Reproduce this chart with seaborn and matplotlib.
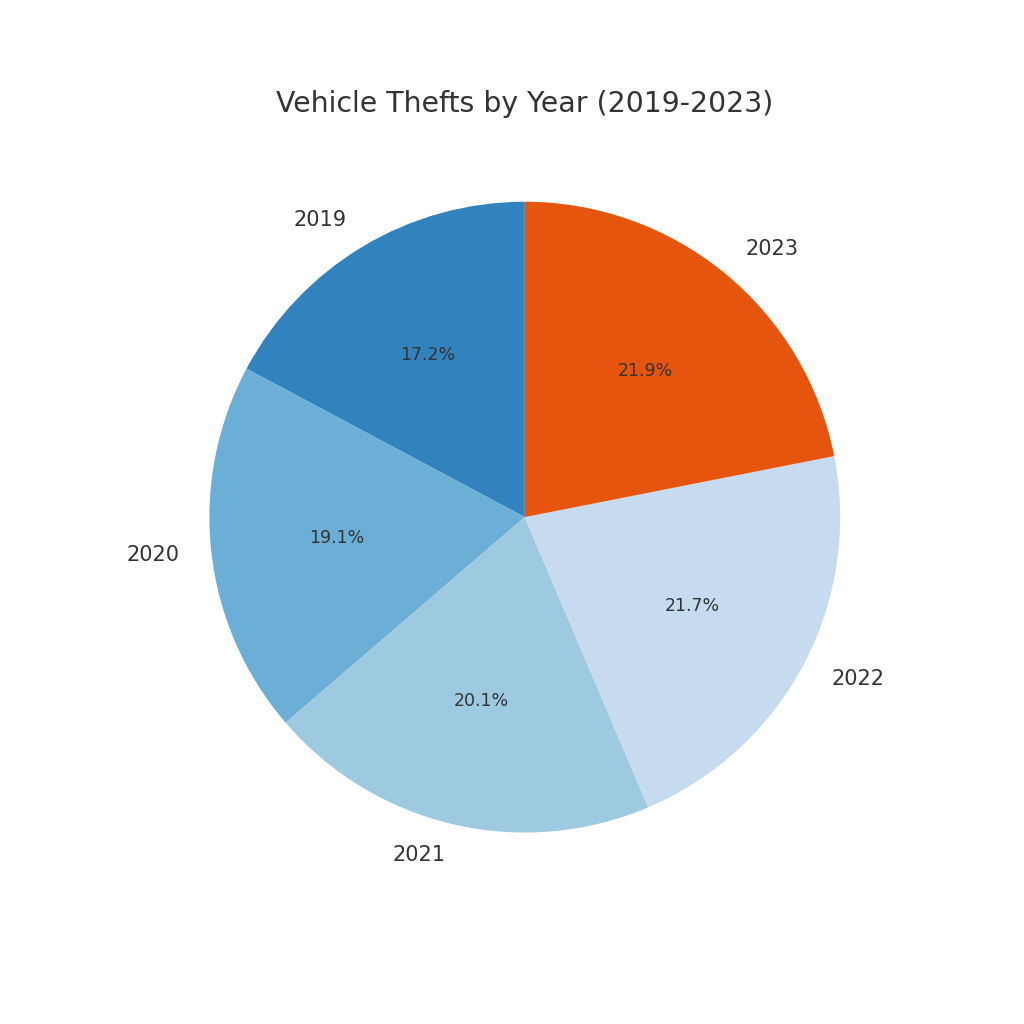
import matplotlib
matplotlib.use("Agg")
import matplotlib.pyplot as plt
import seaborn as sns

# Data (shares of thefts per year, %)
years = ['2019', '2020', '2021', '2022', '2023']
thefts = [17.2, 19.1, 20.1, 21.7, 21.9]

sns.set_theme(style='white')
plt.rcParams['font.family'] = ['DejaVu Sans']
plt.rcParams['text.color'] = '#333333'

# tab20c blues + orange for the latest year
pal = sns.color_palette('tab20c', 8)
colors = [pal[0], pal[1], pal[2], pal[3], pal[4]]

fig, ax = plt.subplots(figsize=(10.24, 10.24), dpi=100)
wedges, texts, autotexts = ax.pie(
    thefts, labels=years, colors=colors, autopct='%1.1f%%',
    startangle=90, counterclock=True,
    wedgeprops={'linewidth': 0},
    textprops={'fontsize': 15, 'color': '#333333'})
for t in autotexts:
    t.set_fontsize(12.5)
ax.set_title('Vehicle Thefts by Year (2019-2023)', fontsize=20.4, color='#333333', pad=8)

plt.savefig('out.png', dpi=100)
